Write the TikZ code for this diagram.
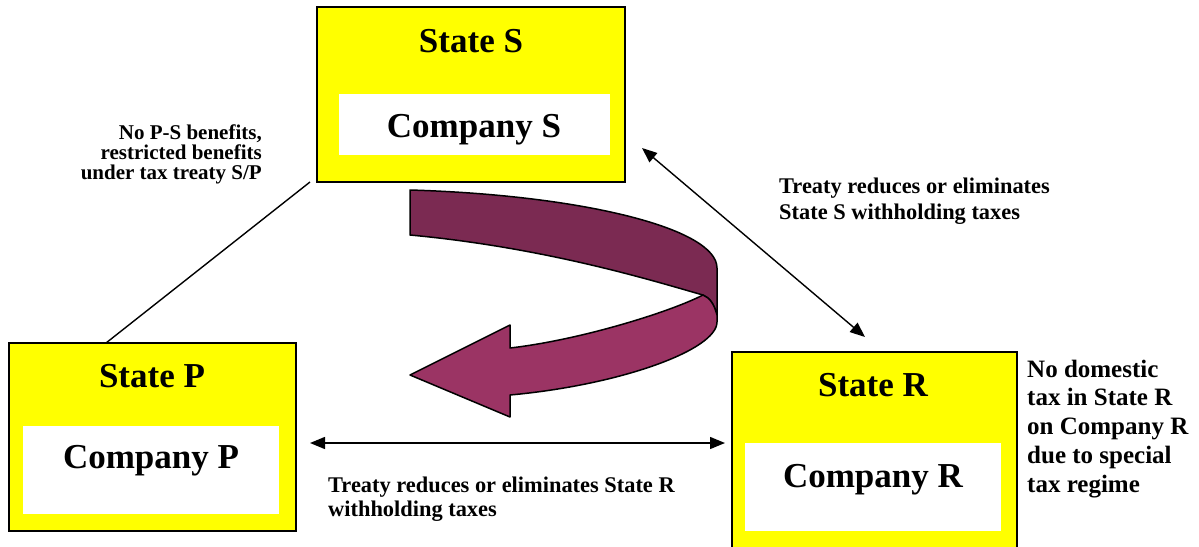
\documentclass[tikz,border=0pt]{standalone}
\usepackage{fontspec}
\setmainfont{Liberation Serif}
\usetikzlibrary{arrows.meta,calc}
\definecolor{ribbondark}{RGB}{123,42,82}
\definecolor{ribbonfront}{RGB}{155,52,100}
\definecolor{stateyellow}{RGB}{255,255,0}
\newcommand{\mytightlines}{\lineskiplimit=-20pt\relax}
\begin{document}
\begin{tikzpicture}[x=1pt,y=-1pt,
  statebox/.style={draw=black,line width=1.5pt,fill=stateyellow,inner sep=0pt,outer sep=0pt},
  compbox/.style={fill=white,inner sep=0pt,outer sep=0pt},
  head/.style={font=\fontsize{35}{40}\selectfont\bfseries,anchor=base,inner sep=0pt},
  note/.style={inner sep=0pt},
  conn/.style={line width=1.4pt},
  dbl/.style={conn,{Triangle[length=15pt,width=12pt]}-{Triangle[length=15pt,width=12pt]}},
  ribbon/.style={draw=black,line width=1.5pt,line join=round}]
\useasboundingbox (0,0) rectangle (1199,546);

% State S
\node[statebox,minimum width=308pt,minimum height=175pt] (S) at (471,94.5) {};
\node[compbox,minimum width=271pt,minimum height=61pt] (CS) at (474.5,124.5) {};
\node[head] (tS) at (471,52) {State S};
\node[head] (tCS) at (474,137) {Company S};

% State P
\node[statebox,minimum width=287pt,minimum height=188pt] (P) at (152.5,437) {};
\node[compbox,minimum width=256pt,minimum height=88pt] (CP) at (151,470) {};
\node[head] (tP) at (152,387) {State P};
\node[head] (tCP) at (151,468) {Company P};

% State R
\node[statebox,minimum width=285pt,minimum height=214pt] (R) at (874.5,459) {};
\node[compbox,minimum width=256pt,minimum height=88pt] (CR) at (873,487) {};
\node[head] (tR) at (873,396) {State R};
\node[head] (tCR) at (873,487) {Company R};

% notes (anchor base = last line's baseline)
\node[note,anchor=base east,align=right,font=\fontsize{21}{19.6}\selectfont\bfseries\mytightlines] (nSP) at (262,179)
  {No P-S benefits,\\restricted benefits\\under tax treaty S/P};
\node[note,anchor=base west,align=left,font=\fontsize{22.4}{26}\selectfont\bfseries] (nSR) at (779,219)
  {Treaty reduces or eliminates\\State S withholding taxes};
\node[note,anchor=base west,align=left,font=\fontsize{22.4}{24}\selectfont\bfseries] (nPR) at (328,516)
  {Treaty reduces or eliminates State R\\withholding taxes};
\node[note,anchor=base west,align=left,font=\fontsize{25}{28.7}\selectfont\bfseries] (nR) at (1027,492)
  {No domestic\\tax in State R\\on Company R\\due to special\\tax regime};

% connectors
\draw[conn] ([xshift=-7pt]S.south west) -- ([xshift=-46.5pt]P.north);
\coordinate (a1) at (642,148);
\coordinate (a2) at (865,337);
\draw[dbl] (a1) -- (a2);
\coordinate (b1) at (310,443);
\coordinate (b2) at (725,443);
\draw[dbl] (b1) -- (b2);

% curved ribbon arrow
\draw[ribbon,fill=ribbondark] (410,190) .. controls (580,195) and (717,228) .. (717,268)
  -- (717,315) .. controls (714,304) and (710,298) .. (703,295)
  .. controls (660,283) and (550,248) .. (410,235) -- cycle;
\draw[ribbon,fill=ribbonfront] (703,295) .. controls (710,298) and (714,304) .. (717,315)
  -- (717,322) .. controls (717,350) and (620,385) .. (510,395)
  -- (510,417) -- (410,375) -- (510,325) -- (510,348)
  .. controls (580,340) and (670,312) .. (703,295) -- cycle;
\end{tikzpicture}
\end{document}
